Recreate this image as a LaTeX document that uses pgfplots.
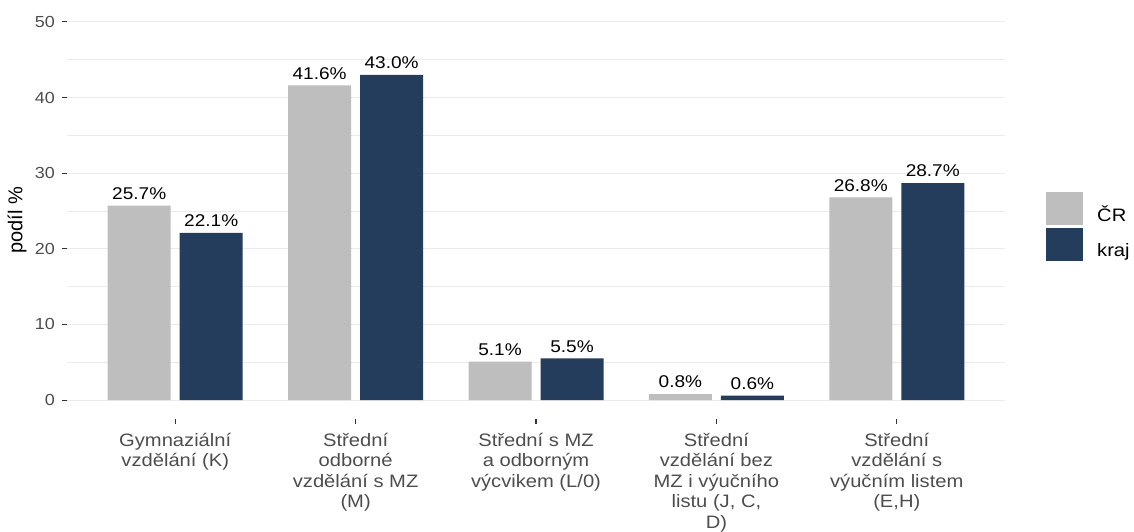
\documentclass[border=0pt]{standalone}
\usepackage{fontspec}
\setmainfont{Liberation Sans}[FakeStretch=1.12]
\newfontfamily\plainsans{Liberation Sans}
\usepackage{pgfplots}
\pgfplotsset{compat=1.18}
\definecolor{crgray}{RGB}{190,190,190}
\definecolor{krajblue}{RGB}{37,61,92}
\definecolor{ticktext}{RGB}{77,77,77}
\definecolor{tickcol}{RGB}{51,51,51}
\definecolor{gridcol}{RGB}{235,235,235}
\begin{document}
\begin{tikzpicture}[x=1pt,y=1pt]
\begin{axis}[
  at={(67pt,113pt)}, anchor=south west,
  scale only axis, width=938pt, height=416pt,
  xmin=0.4, xmax=5.6, ymin=-2.5, ymax=52.5,
  axis line style={draw=none},
  tick pos=left, tick align=outside,
  major tick length=5pt, minor tick length=0pt,
  tick style={tickcol, line width=1.1pt},
  xtick={1,2,3,4,5}, ytick={0,10,20,30,40,50}, minor ytick={5,15,25,35,45},
  ymajorgrids, yminorgrids,
  major grid style={gridcol, line width=1.1pt},
  minor grid style={gridcol, line width=0.6pt},
  /pgf/number format/assume math mode=true,
  xticklabels={{Gymnaziální\\vzdělání (K)},{Střední\\odborné\\vzdělání s MZ\\(M)},{Střední s MZ\\a odborným\\výcvikem (L/0)},{Střední\\vzdělání bez\\MZ i výučního\\listu (J, C,\\D)},{Střední\\vzdělání s\\výučním listem\\(E,H)}},
  xticklabel style={align=center, font=\fontsize{18}{20.5}\selectfont, text=ticktext, inner sep=0pt, yshift=-9pt},
  yticklabel style={font=\fontsize{16}{18}\selectfont, text=ticktext, inner sep=0pt, xshift=-7pt},
  ylabel={podíl \%},
  ylabel style={at={(axis description cs:-0.0533,0.478)}, anchor=center, font=\plainsans\fontsize{20}{22}\selectfont, text=black},
  legend image code/.code={\fill[#1] (0pt,-10.5pt) rectangle (37pt,22.5pt);},
  legend style={at={(axis description cs:1.0437,0.4627)}, anchor=west, draw=none, fill=none, inner sep=0pt, row sep=3pt, column sep=14pt, nodes={inner sep=0pt, text=black, font=\fontsize{18}{20}\selectfont}},
  legend cell align=left,
]
\addplot[ybar, bar width=63pt, bar shift=-36pt, fill=crgray, draw=none, forget plot,
  nodes near coords={\pgfmathprintnumber[fixed,fixed zerofill,precision=1]{\pgfplotspointmeta}\%},
  nodes near coords style={font=\fontsize{17}{18}\selectfont, text=black, anchor=south, inner sep=0pt, xshift=-36pt, yshift=6pt}]
  coordinates {(1,25.7) (2,41.6) (3,5.1) (4,0.8) (5,26.8)};
\addplot[ybar, bar width=63pt, bar shift=36pt, fill=krajblue, draw=none, forget plot,
  nodes near coords={\pgfmathprintnumber[fixed,fixed zerofill,precision=1]{\pgfplotspointmeta}\%},
  nodes near coords style={font=\fontsize{17}{18}\selectfont, text=black, anchor=south, inner sep=0pt, xshift=36pt, yshift=6pt}]
  coordinates {(1,22.1) (2,43.0) (3,5.5) (4,0.6) (5,28.7)};
\addlegendimage{fill=crgray, draw=none}
\addlegendimage{fill=krajblue, draw=none}
\legend{ČR, kraj}
\end{axis}
\pgfresetboundingbox
\useasboundingbox (0,0) rectangle (1134,532);
\end{tikzpicture}
\end{document}
